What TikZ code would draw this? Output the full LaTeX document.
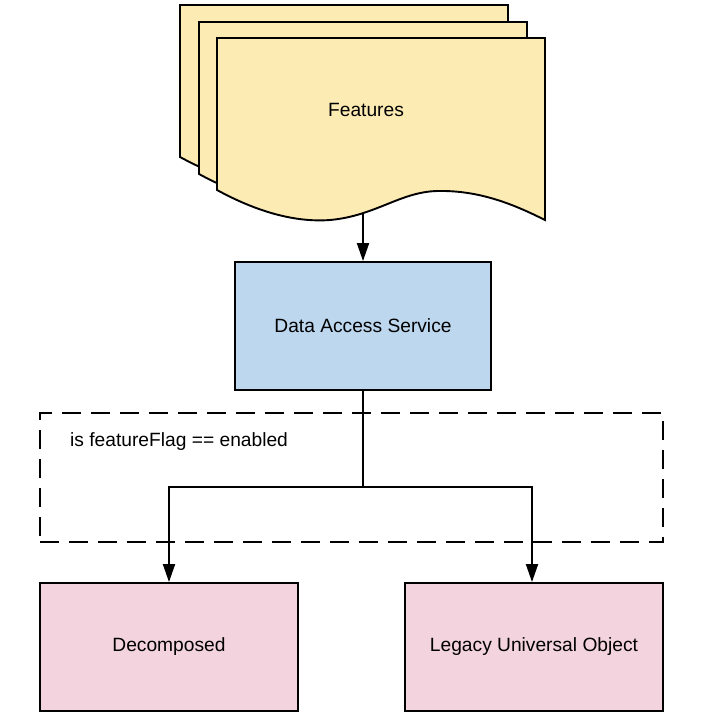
\documentclass[tikz,border=0pt]{standalone}
\usepackage{fontspec}
\setmainfont{Liberation Sans}
\usetikzlibrary{arrows.meta}
\definecolor{docfill}{HTML}{FDEBB4}
\definecolor{dasfill}{HTML}{BDD7EE}
\definecolor{pinkfill}{HTML}{F3D3DE}
\tikzset{
  txt/.style={font=\fontsize{19.2}{23}\selectfont},
  boxstyle/.style={draw=black, line width=1.9pt, minimum width=256pt, minimum height=128pt, inner sep=0pt, txt},
  conn/.style={draw=black, line width=1.9pt},
  arr/.style={conn, -{Triangle[length=18pt,width=12pt]}},
  docstyle/.style={draw=black, line width=1.9pt, fill=docfill},
  groupbox/.style={draw=black, line width=1.9pt, dash pattern=on 19pt off 10pt}
}
\newcommand{\docsheet}[2]{%
  \path[docstyle] (217+#1,38+#2) -- (545+#1,38+#2) -- (545+#1,220+#2)
    .. controls (515+#1,205+#2) and (480+#1,190+#2) .. (437+#1,191+#2)
    .. controls (400+#1,192+#2) and (375+#1,216+#2) .. (330+#1,220+#2)
    .. controls (290+#1,223+#2) and (250+#1,208+#2) .. (217+#1,190+#2) -- cycle;}
\begin{document}
\begin{tikzpicture}[x=1pt,y=-1pt]
\useasboundingbox (0,0) rectangle (712,713);
\docsheet{-37}{-33}
\docsheet{-18}{-16}
\docsheet{0}{0}
\node[txt] (feat) at (366,110) {Features};
\coordinate (featbot) at (363,213);
\node[boxstyle, fill=dasfill] (das) at (363,326) {Data Access Service};
\node[boxstyle, fill=pinkfill, minimum width=258pt] (dec) at (169,647) {Decomposed};
\node[boxstyle, fill=pinkfill, minimum width=258pt] (leg) at (534,647) {Legacy Universal Object};
\node[groupbox, minimum width=623pt, minimum height=129pt, inner sep=0pt] (grp) at (351.5,477.5) {};
\node[anchor=west, inner sep=0pt, txt] (cond) at (70,442) {is featureFlag == enabled};
\coordinate (split) at (363,487);
\draw[arr] (featbot) -- (das.north);
\draw[conn] (das.south) -- (split);
\draw[arr] (split) -| (dec.north -| 169,0);
\draw[arr] (split) -| (leg.north -| 532,0);
\end{tikzpicture}
\end{document}
